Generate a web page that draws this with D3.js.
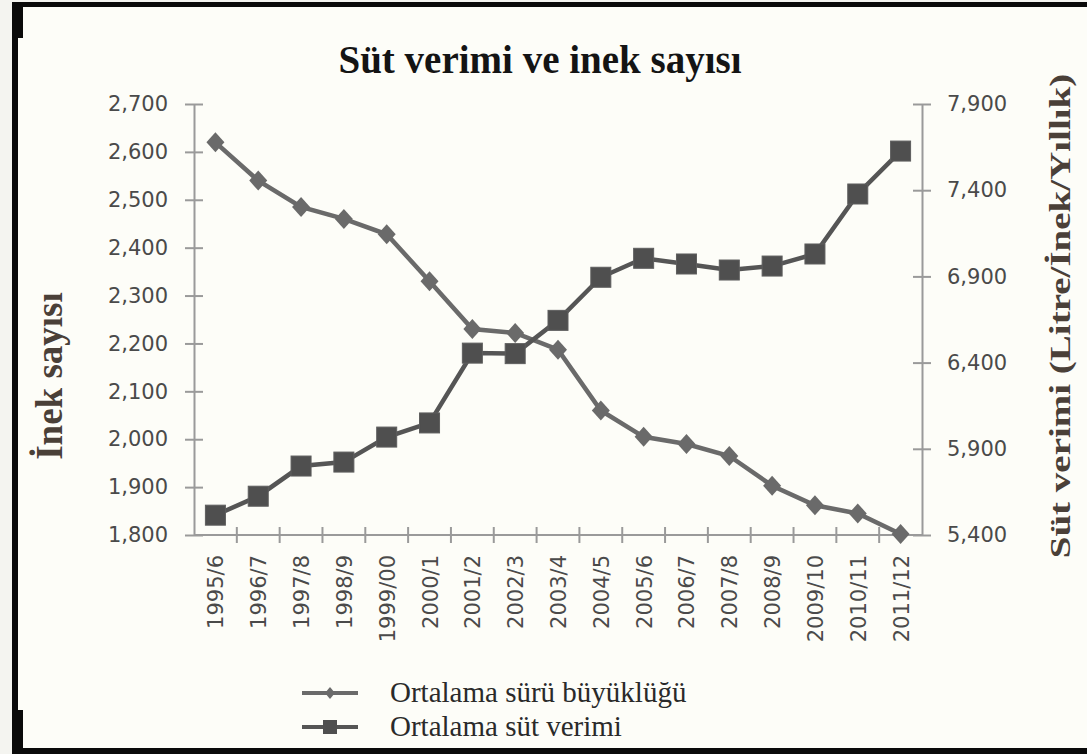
<!DOCTYPE html>
<html><head><meta charset="utf-8">
<script src="https://cdn.jsdelivr.net/npm/d3@7"></script>
<style>html,body{margin:0;padding:0;background:#f4f4f0;}svg{display:block;}</style>
</head><body>
<script>
const categories = ["1995/6","1996/7","1997/8","1998/9","1999/00","2000/1","2001/2","2002/3","2003/4","2004/5","2005/6","2006/7","2007/8","2008/9","2009/10","2010/11","2011/12"];
const herdSize = [2620,2540,2485,2460,2428,2330,2230,2222,2187,2060,2005,1990,1965,1903,1862,1845,1802];
const milkYield = [5515,5625,5800,5823,5968,6050,6455,6452,6645,6895,7005,6972,6937,6960,7030,7378,7627];
const leftTicks = [1800,1900,2000,2100,2200,2300,2400,2500,2600,2700];
const rightTicks = [5400,5900,6400,6900,7400,7900];
const title = "Süt verimi ve inek sayısı";
const leftTitle = "İnek sayısı";
const rightTitle = "Süt verimi (Litre/İnek/Yıllık)";
const legendLabels = ["Ortalama sürü büyüklüğü","Ortalama süt verimi"];

const W=1087,H=754;
const svg=d3.select("body").append("svg").attr("width",W).attr("height",H);
// frame
svg.append("rect").attr("x",12).attr("y",2).attr("width",W-12).attr("height",H-2).attr("fill","#0a0a0a");
svg.append("rect").attr("x",18).attr("y",7).attr("width",W-18).attr("height",741).attr("fill","#fdfdf8");
svg.append("rect").attr("x",18).attr("y",7).attr("width",5).attr("height",31).attr("fill","#0a0a0a");
svg.append("rect").attr("x",18).attr("y",710).attr("width",5).attr("height",38).attr("fill","#0a0a0a");

const L=194,R=922,T=104,B=535;
const x=d3.scaleBand().domain(categories).range([L,R]).padding(0);
const cx=c=>x(c)+x.bandwidth()/2;
const yL=d3.scaleLinear().domain([1800,2700]).range([B,T]);
const yR=d3.scaleLinear().domain([5400,7900]).range([B,T]);

const axisCol="#9a9a9a", tickTxt="#4a4a4a";
const font="'DejaVu Sans', Verdana, sans-serif";

// left axis
const gl=svg.append("g").attr("transform",`translate(${L},0)`)
  .call(d3.axisLeft(yL).tickValues(leftTicks).tickFormat(d3.format(",")).tickSizeInner(9).tickSizeOuter(0).tickPadding(17));
gl.selectAll(".tick line").attr("x2",-9).attr("x1",9);
// right axis
const gr=svg.append("g").attr("transform",`translate(${R},0)`)
  .call(d3.axisRight(yR).tickValues(rightTicks).tickFormat(d3.format(",")).tickSizeInner(9).tickSizeOuter(0).tickPadding(16));
gr.selectAll(".tick line").attr("x1",-9).attr("x2",9);
[gl,gr].forEach(g=>{
  g.select(".domain").attr("stroke",axisCol).attr("stroke-width",2);
  g.selectAll(".tick line").attr("stroke",axisCol).attr("stroke-width",2);
  g.selectAll(".tick text").attr("fill",tickTxt).style("font-family",font).style("font-size","21px");
});
// bottom axis
const gb=svg.append("g");
gb.append("line").attr("x1",L).attr("x2",R).attr("y1",B).attr("y2",B).attr("stroke",axisCol).attr("stroke-width",2);
gb.selectAll("line.t").data(categories.slice(1)).join("line").attr("class","t")
  .attr("x1",d=>x(d)).attr("x2",d=>x(d)).attr("y1",B-8).attr("y2",B+8).attr("stroke",axisCol).attr("stroke-width",2);
gb.selectAll("text").data(categories).join("text")
  .attr("transform",d=>`translate(${cx(d)+8},${B+20}) rotate(-90)`)
  .attr("text-anchor","end").attr("fill",tickTxt).style("font-family",font).style("font-size","21px").text(d=>d);

// lines
const diamondCol="#6a6a6a", squareCol="#555555";
const lineH=d3.line().x((d,i)=>cx(categories[i])).y(d=>yL(d));
const lineM=d3.line().x((d,i)=>cx(categories[i])).y(d=>yR(d));
svg.append("path").datum(herdSize).attr("d",lineH).attr("fill","none").attr("stroke",diamondCol).attr("stroke-width",4.5);
svg.selectAll("path.dm").data(herdSize).join("path").attr("class","dm")
  .attr("transform",(d,i)=>`translate(${cx(categories[i])},${yL(d)})`)
  .attr("d","M0,-10L9,0L0,10L-9,0Z").attr("fill",diamondCol);
svg.append("path").datum(milkYield).attr("d",lineM).attr("fill","none").attr("stroke",squareCol).attr("stroke-width",4.5);
svg.selectAll("rect.sq").data(milkYield).join("rect").attr("class","sq")
  .attr("x",(d,i)=>cx(categories[i])-10).attr("y",d=>yR(d)-10).attr("width",20).attr("height",20)
  .attr("fill","#4f4f4f").attr("stroke","#5e5e5e").attr("stroke-width",1);

// titles
svg.append("text").attr("x",540).attr("y",73).attr("text-anchor","middle")
  .style("font-family","'Liberation Serif', 'Times New Roman', serif").style("font-weight","bold").style("font-size","39px").attr("fill","#141414").text(title);
svg.append("text").attr("transform","translate(62,376) rotate(-90)").attr("text-anchor","middle")
  .style("font-family","'Liberation Serif', serif").style("font-weight","bold").style("font-size","37px").attr("fill","#4a4038").text(leftTitle);
svg.append("text").attr("transform","translate(1070,316) rotate(-90) scale(1,0.78)").attr("text-anchor","middle")
  .style("font-family","'Liberation Serif', serif").style("font-weight","bold").style("font-size","39px").attr("fill","#4a4038").text(rightTitle);

// legend
const lg=svg.append("g");
const ly=[693,727];
lg.selectAll("line").data(ly).join("line").attr("x1",302).attr("x2",358).attr("y1",d=>d).attr("y2",d=>d)
  .attr("stroke",(d,i)=>i?squareCol:diamondCol).attr("stroke-width",4);
lg.append("path").attr("transform",`translate(330,${ly[0]})`).attr("d","M0,-6L5,0L0,6L-5,0Z").attr("fill",diamondCol);
lg.append("rect").attr("x",323).attr("y",ly[1]-7).attr("width",14).attr("height",14).attr("fill","#4f4f4f");
lg.selectAll("text").data(legendLabels).join("text").attr("x",390).attr("y",(d,i)=>ly[i]+9)
  .style("font-family","'Liberation Serif', serif").style("font-size","29px").attr("fill","#2a2a2a").text(d=>d);
</script>
</body></html>
